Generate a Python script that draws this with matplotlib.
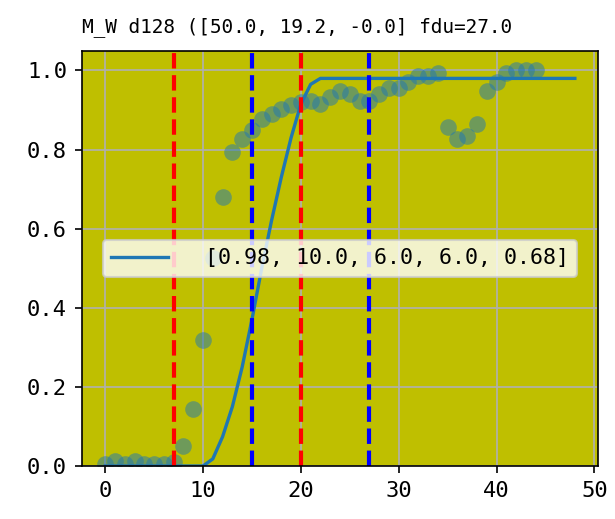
import matplotlib
matplotlib.use("Agg")
import matplotlib.pyplot as plt
import numpy as np

plt.rcParams['font.family'] = ['DejaVu Sans Mono']

title = "M_W d128 ([50.0, 19.2, -0.0] fdu=27.0"
legend_label = "[0.98, 10.0, 6.0, 6.0, 0.68]"

pts_x = list(range(0, 45))
pts_y = [0.005, 0.013, 0.005, 0.013, 0.005, 0.005, 0.005, 0.01, 0.051, 0.143,
         0.318, 0.525, 0.68, 0.795, 0.826, 0.85, 0.878, 0.889, 0.903, 0.912,
         0.92, 0.924, 0.916, 0.933, 0.949, 0.941, 0.924, 0.924, 0.941, 0.955,
         0.955, 0.97, 0.985, 0.985, 0.994, 0.857, 0.826, 0.834, 0.865, 0.948,
         0.97, 0.994, 1.0, 1.0, 1.0]

fit_x = list(range(0, 49))
fit_y = [0.0] * 11 + [0.018, 0.074, 0.15, 0.25, 0.37, 0.50, 0.62, 0.73, 0.83,
                      0.915, 0.965, 0.98] + [0.98] * 26

red_lines = [7, 20]
blue_lines = [15, 27]

fig = plt.figure(figsize=(4.1, 3.46), dpi=150)
ax = fig.add_axes([0.1328, 0.1021, 0.9729 - 0.1328, 0.9023 - 0.1021])
ax.set_facecolor('y')
ax.grid(True, zorder=0)
ax.set_axisbelow(True)

ax.plot(pts_x, pts_y, 'o', color='C0', alpha=0.5, markersize=8, markeredgewidth=0)
ax.plot(fit_x, fit_y, color='C0', linewidth=1.6, label=legend_label)
for v in red_lines:
    ax.axvline(v, color='r', linestyle='--', linewidth=2)
for v in blue_lines:
    ax.axvline(v, color='b', linestyle='--', linewidth=2)

ax.set_ylim(0, 1.05)
ax.set_xticks([0, 10, 20, 30, 40, 50])
ax.set_yticks([0.0, 0.2, 0.4, 0.6, 0.8, 1.0])
ax.tick_params(labelsize=10.6)
ax.set_title(title, fontsize=9.3, loc='left', pad=9)
ax.legend(loc='center', fontsize=10.4, handlelength=2.6, handletextpad=1.7)

fig.savefig('out.png', dpi=150)
